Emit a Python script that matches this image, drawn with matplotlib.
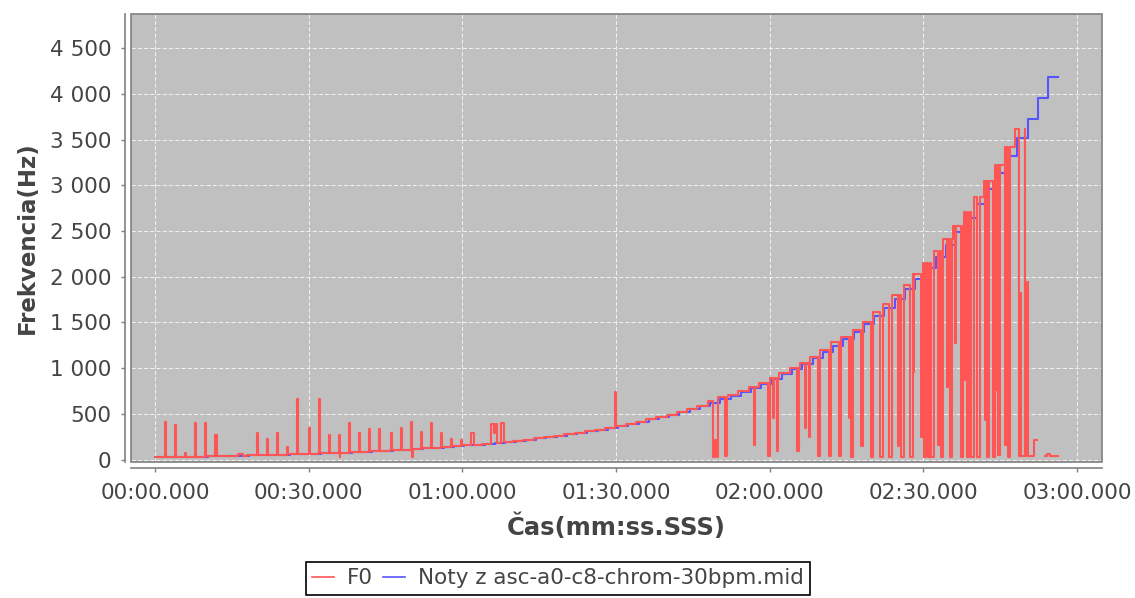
import numpy as np
import matplotlib
matplotlib.use("Agg")
import matplotlib.pyplot as plt
from matplotlib.patches import Rectangle
from matplotlib.ticker import FuncFormatter, MultipleLocator

# noty z MIDI suboru (A0 .. C8), kazda nota trva 2 s
note_hz = [27.5, 29.1, 30.9, 32.7, 34.6, 36.7, 38.9, 41.2, 43.7, 46.2, 49.0, 51.9,
           55.0, 58.3, 61.7, 65.4, 69.3, 73.4, 77.8, 82.4, 87.3, 92.5, 98.0, 103.8,
           110.0, 116.5, 123.5, 130.8, 138.6, 146.8, 155.6, 164.8, 174.6, 185.0, 196.0, 207.7,
           220.0, 233.1, 246.9, 261.6, 277.2, 293.7, 311.1, 329.6, 349.2, 370.0, 392.0, 415.3,
           440.0, 466.2, 493.9, 523.3, 554.4, 587.3, 622.3, 659.3, 698.5, 740.0, 784.0, 830.6,
           880.0, 932.3, 987.8, 1046.5, 1108.7, 1174.7, 1244.5, 1318.5, 1396.9, 1480.0, 1568.0, 1661.2,
           1760.0, 1864.7, 1975.5, 2093.0, 2217.5, 2349.3, 2489.0, 2637.0, 2793.8, 2960.0, 3136.0, 3322.4,
           3520.0, 3729.3, 3951.1, 4186.0]

# F0 - uroven pocas kazdej noty (odcitane z grafu)
f0_hz = [27.5, 29.1, 30.9, 32.7, 34.6, 36.7, 38.9, 41.2, 43.7, 46.2, 49.0, 51.9,
         55.0, 58.3, 61.7, 65.4, 69.3, 73.4, 77.8, 82.4, 87.3, 92.5, 98.0, 103.8,
         110.0, 116.5, 123.5, 130.8, 138.6, 146.8, 155.6, 164.8, 174.6, 185.0, 196.0, 207.7,
         220.0, 233.1, 246.9, 261.6, 277.2, 293.7, 311.1, 329.6, 349.2, 370.0, 392.0, 415.3,
         440.0, 466.2, 493.9, 523.3, 554.4, 587.3, 640, 690, 710, 750, 798, 840,
         895, 948, 1005, 1062, 1128, 1195, 1285, 1345, 1420, 1510, 1610, 1705,
         1805, 1915, 2030, 2150, 2280, 2415, 2560, 2710, 2870, 3045, 3225, 3420,
         3610, 40, 40, 40]

# kratke odchylky F0: zaciatok [s], trvanie [s], hodnota [Hz]
spike_t = [1.95, 3.9, 5.9, 7.8, 9.8, 11.7, 16.2, 19.85, 21.8, 23.75, 25.7, 27.8,
           30.05, 32.0, 34.0, 35.9, 36.1, 37.9, 39.8, 41.8, 43.8, 46.1, 48.0, 50.0,
           50.2, 51.9, 53.9, 55.8, 57.8, 59.7, 61.7, 65.6, 66.1, 67.5, 89.8,
           108.9, 109.4, 109.7, 111.3, 116.9, 119.6, 120.7, 121.4, 125.3, 126.9, 127.7,
           129.4, 131.5, 133.5, 135.5, 135.9, 137.8, 139.7, 141.6, 143.4, 145.0, 145.7,
           147.4, 148.0, 149.6, 150.2, 150.9, 151.6, 152.9, 153.5, 154.6, 155.2, 156.2,
           157.3, 158.1, 158.5, 159.4, 160.4, 162.1, 162.4, 163.6, 164.2, 164.6, 166.0,
           166.5, 168.7, 168.9, 170.0, 171.6, 174.2]
spike_w = [0.2, 0.2, 0.2, 0.2, 0.2, 0.4, 1.0, 0.2, 0.2, 0.2, 0.2, 0.2,
           0.2, 0.2, 0.2, 0.2, 0.1, 0.2, 0.2, 0.2, 0.2, 0.2, 0.2, 0.2,
           0.1, 0.2, 0.2, 0.2, 0.2, 0.2, 0.6, 1.2, 0.2, 0.7, 0.2,
           0.5, 0.3, 0.3, 0.4, 0.3, 0.4, 0.2, 0.3, 0.5, 0.2, 0.2,
           0.5, 0.4, 0.4, 0.2, 0.3, 0.5, 0.4, 0.5, 0.5, 0.3, 0.5,
           0.5, 0.2, 0.3, 0.4, 0.5, 0.4, 0.4, 0.3, 0.2, 0.5, 0.2,
           0.5, 0.2, 0.4, 0.5, 0.6, 0.2, 0.5, 0.4, 0.3, 0.3, 0.4,
           0.4, 1.2, 0.2, 0.4, 0.7, 0.5]
spike_hz = [417, 374, 75, 400, 400, 265, 65, 294, 229, 294, 134, 661,
            352, 661, 265, 265, 25, 400, 294, 336, 333, 289, 350, 416,
            27, 307, 398, 289, 223, 216, 289, 385, 290, 398, 744,
            30, 216, 30, 45, 160, 45, 455, 100, 100, 345, 250,
            45, 45, 45, 455, 30, 145, 30, 30, 30, 145, 30,
            30, 960, 250, 30, 30, 30, 160, 30, 800, 30, 1275,
            30, 870, 30, 30, 30, 435, 30, 30, 760, 50, 160,
            30, 40, 1820, 1946, 216, 60]

# useky bez F0
gap_t = [172.3]
gap_w = [1.4]

note_dur = 2.0
note_t0 = 0.4     # posun MIDI voci nahravke
f0_t0 = -0.1
f0_end = 176.3

# schodovita krivka F0
bps = [max(0.0, f0_t0 + i * note_dur) for i in range(len(f0_hz))] + [f0_end]
bps += spike_t + [t + w for t, w in zip(spike_t, spike_w)]
bps += gap_t + [t + w for t, w in zip(gap_t, gap_w)]
bps = sorted(set(b for b in bps if 0.0 <= b <= f0_end))

f0_t, f0_v = [], []
for a, b in zip(bps[:-1], bps[1:]):
    mid = 0.5 * (a + b)
    idx = min(int((mid - f0_t0) // note_dur), len(f0_hz) - 1)
    val = f0_hz[idx]
    for t, w, v in zip(spike_t, spike_w, spike_hz):
        if t <= mid < t + w:
            val = v
    for t, w in zip(gap_t, gap_w):
        if t <= mid < t + w:
            val = np.nan
    f0_t.append(a)
    f0_v.append(val)
f0_t.append(bps[-1])
f0_v.append(f0_v[-1])

note_t = [note_t0 + i * note_dur for i in range(len(note_hz) + 1)]
note_v = note_hz + [note_hz[-1]]

fig = plt.figure(figsize=(11.35, 5.98), dpi=100)
ax = fig.add_axes([131 / 1135, 1 - 462 / 598, 971 / 1135, 448 / 598])
ax.set_facecolor('#c0c0c0')

ax.plot(note_t, note_v, drawstyle='steps-post', color='#5555ff', lw=1.5, zorder=2,
        label='Noty z asc-a0-c8-chrom-30bpm.mid')
ax.plot(f0_t, f0_v, drawstyle='steps-post', color='#ff5555', lw=1.5, zorder=3,
        label='F0')

ax.set_xlim(-4.7, 184.9)
ax.set_ylim(-25, 4872)
ax.xaxis.set_major_locator(MultipleLocator(30))
ax.yaxis.set_major_locator(MultipleLocator(500))


def fmt_time(t, pos):
    m = int(t // 60)
    return f"{m:02d}:{t - 60 * m:06.3f}"


ax.xaxis.set_major_formatter(FuncFormatter(fmt_time))
ax.yaxis.set_major_formatter(FuncFormatter(lambda v, p: f"{int(v):,}".replace(",", " ")))

ax.grid(True, color='#f0f0f0', lw=0.75, ls=(0, (4, 2)), zorder=1)
ax.set_axisbelow(True)

for s in ['top', 'right']:
    ax.spines[s].set_visible(False)
for s in ['left', 'bottom']:
    ax.spines[s].set_position(('outward', 4))
    ax.spines[s].set_color('#808080')
    ax.spines[s].set_linewidth(1.2)
ax.add_patch(Rectangle((0, 0), 1, 1, transform=ax.transAxes, fill=False,
                       ec='#808080', lw=1.2, zorder=5, clip_on=False))

ax.tick_params(direction='out', length=3, width=1, color='#808080',
               labelsize=15.5, labelcolor='#444444')
ax.tick_params(axis='x', pad=8)
ax.tick_params(axis='y', pad=7)

ax.set_xlabel('Čas(mm:ss.SSS)', fontsize=17.5, fontweight='bold', color='#444444')
ax.set_ylabel('Frekvencia(Hz)', fontsize=16.5, fontweight='bold', color='#444444')
ax.xaxis.set_label_coords(0.5, -0.145)
ax.yaxis.set_label_coords(-0.107, 0.5)
ax.xaxis.label.set_va('center')
ax.yaxis.label.set_va('center')

h, l = ax.get_legend_handles_labels()
leg = fig.legend(h[::-1], l[::-1], loc='upper center', bbox_to_anchor=(558 / 1135, 1 - 562 / 598),
                 ncol=2, fontsize=15.5, frameon=True, fancybox=False, framealpha=1,
                 edgecolor='black', handlelength=1.0, handletextpad=0.6, columnspacing=0.5,
                 borderpad=0.3, borderaxespad=0)
leg.get_frame().set_linewidth(1.2)
for line in leg.get_lines():
    line.set_linewidth(1.2)
for txt in leg.get_texts():
    txt.set_color('#444444')

fig.savefig('out.png', dpi=100)
